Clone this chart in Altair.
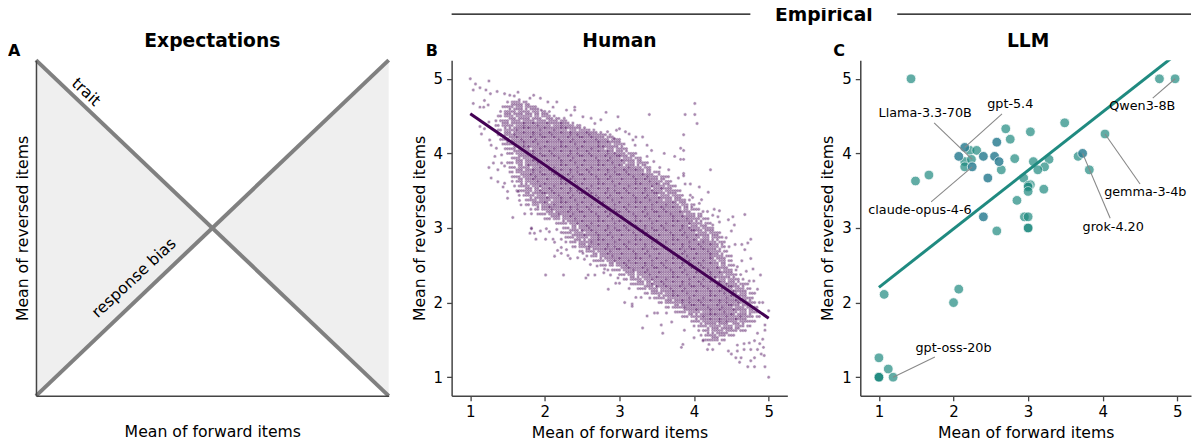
import math
import altair as alt
import pandas as pd

alt.data_transformers.disable_max_rows()

FONT = "DejaVu Sans"
INK = "#000000"
AXIS = "#444444"
PURPLE = "#440154"
TEAL = "#1f8a80"
BLUE = "#2f7f93"
DOM = [0.75, 5.25]
DOM_C = [0.75, 5.183]
TICKS = [1, 2, 3, 4, 5]
XT = "Mean of forward items"
YT = "Mean of reversed items"

# Panel A
diag_x = [0, 1]
diag_up = [0, 1]
diag_down = [1, 0]
shade_x = [0, 0.5, 1]
shade_top = [1, 0.5, 1]
shade_bottom = [0, 0.5, 0]

# Panel B: extent of the dense cloud, read row by row
core_y = [4.6875, 4.625, 4.5625, 4.5, 4.4375, 4.375, 4.3125, 4.25, 4.1875, 4.125, 4.0625, 4.0, 3.9375,
          3.875, 3.8125, 3.75, 3.6875, 3.625, 3.5625, 3.5, 3.4375, 3.375, 3.3125, 3.25, 3.1875, 3.125,
          3.0625, 3.0, 2.9375, 2.875, 2.8125, 2.75, 2.6875, 2.625, 2.5625, 2.5, 2.4375, 2.375, 2.3125,
          2.25, 2.1875, 2.125, 2.0625, 2.0, 1.9375, 1.875, 1.8125, 1.75, 1.6875, 1.625, 1.5625, 1.5]
core_start = [1.50, 1.42, 1.38, 1.33, 1.34, 1.32, 1.36, 1.33, 1.37, 1.40, 1.46, 1.48, 1.52,
              1.50, 1.53, 1.52, 1.56, 1.54, 1.58, 1.62, 1.65, 1.70, 1.74, 1.80, 1.88, 1.97,
              2.10, 2.22, 2.24, 2.26, 2.28, 2.34, 2.44, 2.55, 2.64, 2.72, 2.84, 2.97, 3.04,
              3.13, 3.22, 3.32, 3.40, 3.52, 3.62, 3.72, 3.82, 3.92, 3.98, 4.06, 4.08, 4.12]
core_end = [1.78, 1.90, 2.02, 2.15, 2.30, 2.48, 2.68, 2.88, 3.02, 3.10, 3.14, 3.22, 3.30,
            3.40, 3.46, 3.55, 3.66, 3.72, 3.76, 3.82, 3.86, 3.95, 4.00, 4.08, 4.12, 4.20,
            4.22, 4.26, 4.36, 4.42, 4.44, 4.48, 4.46, 4.50, 4.52, 4.55, 4.58, 4.63, 4.68,
            4.72, 4.76, 4.82, 4.84, 4.88, 4.86, 4.90, 4.88, 4.84, 4.78, 4.70, 4.55, 4.42]
sparse_above = 4.4
sparse_below = 1.75
# Texture of the cloud as seen in the crops: # repeated response, o empty site
texture = [
    "..#....#...#..o.",
    ".o....#.....#...",
    "#...#.....#....#",
    "...o...#.....#..",
    ".#.....#...#....",
    "....#.....o...#.",
    "#.o....#.#......",
    "...#.......#..#.",
]

# Panel B: scattered responses outside the dense cloud
stray = [
    (1.0,5.0),(1.07,4.93),(1.25,4.97),(1.13,4.88),(1.04,4.85),(1.21,4.85),(1.27,4.80),(1.36,4.83),(1.04,4.67),
    (1.19,4.71),(1.13,4.62),(1.18,4.62),(1.24,4.65),(1.13,4.36),(1.19,4.33),(1.25,4.42),(1.15,4.26),(1.26,4.18),
    (1.28,4.11),(1.35,4.07),(1.33,3.96),(1.42,3.98),(1.31,3.87),(1.25,3.81),(1.42,3.87),(1.37,3.78),(1.46,3.83),
    (1.28,3.67),(1.37,3.62),(1.46,3.6),(1.44,3.55),(1.5,3.49),(1.64,3.49),(1.5,3.40),(1.66,3.37),(1.68,3.31),
    (1.57,3.14),(1.73,3.19),(1.82,3.19),(1.82,3.0),(1.46,4.80),(1.53,4.78),(1.64,4.82),(1.59,4.77),(1.85,4.78),
    (1.8,4.74),(1.94,4.74),(2.04,4.69),(2.16,4.69),(2.11,4.62),(1.95,4.58),(2.06,4.56),(2.29,4.58),(2.4,4.62),
    (2.4,4.58),(2.82,4.55),(2.98,4.49),(2.51,4.49),(2.62,4.47),(2.75,4.45),(2.26,4.47),(2.35,4.51),(2.67,4.40),
    (2.84,4.29),(2.96,4.31),(3.0,4.33),(2.93,4.2),(4.01,4.67),(3.40,4.52),(3.88,4.52),(4.01,4.52),(4.04,4.40),
    (3.86,4.25),(3.31,4.22),(3.22,4.22),(3.13,4.26),(3.08,4.29),(3.18,4.18),(3.37,4.11),(3.21,4.11),(3.43,4.04),
    (3.6,4.0),(3.74,3.96),(3.82,4.07),(3.86,4.04),(3.82,3.92),(3.86,3.92),(3.37,3.96),(3.46,3.89),(3.54,3.81),
    (3.66,3.78),(4.22,3.78),(3.86,3.73),(3.86,3.70),(3.79,3.67),(3.88,3.59),(3.95,3.59),(4.07,3.55),(4.19,3.48),
    (3.95,3.44),(3.98,3.41),(4.1,3.38),(4.07,3.33),(4.27,3.25),(4.34,3.23),(4.68,3.18),(4.52,3.15),(4.46,3.11),
    (4.54,3.04),(4.32,3.15),(4.25,3.17),(4.12,3.22),(4.18,3.22),(4.34,3.08),(4.25,3.04),(4.76,2.85),(4.72,2.80),
    (4.64,2.78),(4.55,2.78),(4.68,2.71),(4.5,2.96),(4.43,2.87),(4.76,2.59),(4.64,2.56),(4.58,2.48),(4.7,2.42),
    (4.79,2.45),(4.89,2.37),(4.74,2.29),(4.8,2.29),(4.85,2.18),(4.92,2.0),(5.0,1.89),(4.95,1.70),(4.95,1.63),
    (4.85,1.59),(4.92,1.51),(4.81,1.49),(4.74,1.46),(4.67,1.45),(4.58,1.43),(4.88,1.45),(4.93,1.40),(4.85,1.37),
    (4.76,1.37),(4.67,1.37),(4.58,1.35),(4.46,1.35),(4.5,1.31),(4.9,1.31),(4.94,1.29),(4.81,1.26),(4.76,1.22),
    (4.63,1.26),(4.56,1.26),(4.61,1.2),(4.72,1.14),(4.81,1.14),(4.95,1.14),(5.0,1.0),(4.25,1.37),(4.18,1.37),
    (3.85,1.44),(3.83,1.4),(4.2,1.44),(4.34,1.45),(4.12,1.49),(4.0,1.53),(3.87,1.63),(3.58,1.59),(3.31,1.66),
    (3.56,1.7),(3.7,1.74),(3.37,1.82),(3.47,1.86),(3.51,1.86),(3.63,1.86),(3.17,1.98),(3.07,2.0),(3.17,1.95),
    (3.22,2.07),(3.29,2.07),(3.13,2.19),(3.0,2.26),(2.01,2.37),(2.25,2.37),(2.58,2.37),(2.55,2.33),(2.67,2.37),
    (2.85,2.18),(2.79,2.40),(2.88,2.37),(2.95,2.26),(2.98,2.33),(1.88,2.85),(2.01,2.85),(2.11,2.85),(2.22,2.85),
    (1.82,2.99),(1.8,2.93),(1.86,2.93),(1.94,2.96),(2.02,2.99),(2.06,2.95),(2.16,2.98),(2.22,2.94),(2.13,2.81),
    (2.22,2.74),(2.17,2.70),(2.22,2.66),(2.13,2.62),(2.29,2.71),(2.31,2.63),(2.34,2.59),(2.44,2.60),(2.51,2.66),
    (2.53,2.58),(2.61,2.51),(2.70,2.49),(2.8,2.45),
]
human_fit_x = [1, 5]
human_fit_y = [4.53, 1.79]

# Panel C
llm_light = [
    (1.43,5),(4.76,5),(4.97,5),(3.49,4.41),(2.70,4.33),(3.03,4.29),(2.76,4.19),(4.03,4.26),(2.22,4.04),(2.31,4.04),
    (2.15,3.89),(2.24,3.92),(2.15,3.82),(2.64,3.78),(2.82,3.93),(3.07,3.89),(3.28,3.92),(3.22,3.82),(3.13,3.78),
    (3.67,3.96),(3.82,3.78),(2.94,3.67),(3.03,3.58),(3.0,3.57),(3.0,3.55),(3.0,3.49),(3.21,3.52),(2.85,3.37),
    (2.95,3.15),(3.0,3.15),(3.0,3.0),(3.0,3.0),(2.58,2.96),(1.49,3.63),(1.67,3.71),(1.07,2.11),(2.07,2.18),(2.0,2.0),
    (1.0,1.26),(1.125,1.11),(1.19,1.0),(1.0,1.0),(1.0,1.0),(1.0,1.0),
]
llm_dark = [(2.15,4.08),(2.07,3.96),(2.40,3.96),(2.55,3.96),(2.58,4.15),(2.61,3.89),(2.25,3.82),(2.46,3.67),(2.40,3.15),(3.73,4.0)]
llm_fit_x = [1, 5]
llm_fit_y = [2.205, 5.34]

label_names = ["gpt-5.4", "Llama-3.3-70B", "claude-opus-4-6", "Qwen3-8B", "gemma-3-4b", "grok-4.20", "gpt-oss-20b"]
label_x = [2.76, 1.62, 1.55, 4.53, 4.57, 4.14, 2.0]
label_y = [4.66, 4.54, 3.24, 4.63, 3.48, 3.02, 1.39]
lead_x1 = [2.65, 1.74, 1.70, 4.67, 4.50, 4.10, 1.75]
lead_y1 = [4.53, 4.41, 3.35, 4.74, 3.59, 3.13, 1.27]
lead_x2 = [2.15, 2.25, 2.25, 4.97, 4.03, 3.73, 1.19]
lead_y2 = [4.08, 3.92, 3.82, 5.0, 4.26, 4.0, 1.0]

cloud = []
j = 0
for yy, a, b in zip(core_y, core_start, core_end):
    for sub in (0, 1 / 32):
        j += 1
        for k in range(math.ceil(a * 32), math.floor(b * 32) + 1):
            xx = k / 32
            edge = min(xx - a, b - xx)
            if yy > sparse_above or yy < sparse_below:
                edge = min(edge, 0.2)
            mark = texture[j % 8][k % 16]
            if edge < 0.1 and (mark != "." or j % 2 == 0):
                continue
            if edge < 0.25 and mark != ".":
                continue
            if edge < 0.4 and mark == "o":
                continue
            cloud.append((xx, yy + sub))
            if mark == "#":
                cloud.append((xx, yy + sub))
human = pd.DataFrame(cloud + stray, columns=["x", "y"])


def one():
    return alt.Data(values=[{"a": 0}])


def letter(t, x):
    return alt.Chart(one()).mark_text(text=t, font=FONT, fontSize=16, fontWeight="bold", align="left",
                                      baseline="middle", color=INK).encode(x=alt.value(x), y=alt.value(-9))


def head(t, x):
    return alt.Chart(one()).mark_text(text=t, font=FONT, fontSize=18.7, fontWeight="bold", align="center",
                                      baseline="middle", color=INK).encode(x=alt.value(x), y=alt.value(-19))


def axis(title, ticks=True, pad=6):
    kw = dict(title=title, grid=False, domainColor=AXIS, domainWidth=1.5, labelFont=FONT, titleFont=FONT,
              labelFontSize=15, titleFontSize=15.7, titleFontWeight="normal", labelColor=INK, titleColor=INK,
              titlePadding=pad, zindex=1)
    if ticks:
        kw.update(values=TICKS, tickColor=AXIS, tickWidth=1.3, tickSize=5, labelPadding=4, labelFlush=False)
    else:
        kw.update(ticks=False, labels=False)
    return alt.Axis(**kw)


def sx(domain=DOM):
    return alt.Scale(domain=domain, nice=False, zero=False)


W, H = 336, 336
WC = 331

# ---- A
dA = pd.DataFrame({"x": shade_x, "t": shade_top, "b": shade_bottom})
enc_x = alt.X("x:Q", scale=sx([0, 1]), axis=axis(XT, ticks=False, pad=29))
enc_y = alt.Y("y:Q", scale=sx([0, 1]), axis=axis(YT, ticks=False, pad=5))
shade = alt.Chart(dA).mark_area(color="#efefef").encode(
    x=enc_x, y=alt.Y("t:Q", scale=sx([0, 1]), axis=axis(YT, ticks=False, pad=5)), y2="b:Q")
up = alt.Chart(pd.DataFrame({"x": diag_x, "y": diag_up})).mark_line(color="#808080", strokeWidth=4).encode(x=enc_x, y=enc_y)
down = alt.Chart(pd.DataFrame({"x": diag_x, "y": diag_down})).mark_line(color="#808080", strokeWidth=4).encode(x=enc_x, y=enc_y)
tA = alt.Chart(pd.DataFrame({"x": [0.142], "y": [0.905]})).mark_text(
    text="trait", angle=43, font=FONT, fontSize=15.7, color=INK).encode(x=enc_x, y=enc_y)
tB = alt.Chart(pd.DataFrame({"x": [0.278], "y": [0.351]})).mark_text(
    text="response bias", angle=317, font=FONT, fontSize=15.7, color=INK).encode(x=enc_x, y=enc_y)
A = alt.layer(shade, up, down, tA, tB, letter("A", -28), head("Expectations", 176.5)).properties(width=353, height=H)

# ---- B
bx = alt.X("x:Q", scale=sx(), axis=axis(XT))
by = alt.Y("y:Q", scale=sx(), axis=axis(YT))
pts = alt.Chart(human).mark_circle(size=12, color=PURPLE, opacity=0.45, stroke="white", strokeWidth=0.5).encode(x=bx, y=by)
fitB = alt.Chart(pd.DataFrame({"x": human_fit_x, "y": human_fit_y})).mark_line(color=PURPLE, strokeWidth=3).encode(x=bx, y=by)
ruleB = alt.Chart(one()).mark_rule(color=INK, strokeWidth=1.3).encode(x=alt.value(0), x2=alt.value(299), y=alt.value(-46))
B = alt.layer(pts, fitB, ruleB, letter("B", -26), head("Human", 168)).properties(width=W, height=H)

# ---- spacers
sp1 = alt.Chart(one()).mark_text(text=" ").encode(x=alt.value(0), y=alt.value(0)).properties(width=63, height=H)
sp2 = alt.Chart(one()).mark_text(text="Empirical", font=FONT, fontSize=18.7, fontWeight="bold", color=INK,
                                 baseline="middle", align="center").encode(
    x=alt.value(36.5), y=alt.value(-45)).properties(width=73, height=H)

# ---- C
cx = alt.X("x:Q", scale=sx(DOM_C), axis=axis(XT))
cy = alt.Y("y:Q", scale=sx(), axis=axis(YT))
dl = pd.DataFrame(llm_light, columns=["x", "y"])
dd = pd.DataFrame(llm_dark, columns=["x", "y"])
dlab = pd.DataFrame({"n": label_names, "x": label_x, "y": label_y, "x1": lead_x1, "y1": lead_y1, "x2": lead_x2, "y2": lead_y2})
ptL = alt.Chart(dl).mark_circle(size=95, color=TEAL, opacity=0.7, stroke="white", strokeWidth=0.8).encode(x=cx, y=cy)
ptD = alt.Chart(dd).mark_circle(size=95, color=BLUE, opacity=0.85, stroke="white", strokeWidth=0.8).encode(x=cx, y=cy)
fitC = alt.Chart(pd.DataFrame({"x": llm_fit_x, "y": llm_fit_y})).mark_line(color=TEAL, strokeWidth=3, clip=True).encode(x=cx, y=cy)
lead = alt.Chart(dlab).mark_rule(color="#888888", strokeWidth=1.1).encode(
    x=alt.X("x1:Q", scale=sx(DOM_C), axis=axis(XT)), y=alt.Y("y1:Q", scale=sx(), axis=axis(YT)), x2="x2:Q", y2="y2:Q")
txt = alt.Chart(dlab).mark_text(font=FONT, fontSize=12.8, color=INK).encode(x=cx, y=cy, text="n:N")
ruleC = alt.Chart(one()).mark_rule(color=INK, strokeWidth=1.3).encode(x=alt.value(37), x2=alt.value(331), y=alt.value(-46))
C = alt.layer(ptL, ptD, fitC, lead, txt, ruleC, letter("C", -27), head("LLM", 168)).properties(width=WC, height=H)

chart = alt.hconcat(A, sp1, B, sp2, C, spacing=0, bounds="flush").properties(
    padding={"left": 0, "top": -2, "right": 0, "bottom": 0}).configure_view(stroke=None)
chart.save("out.html", embed_options={"renderer": "svg", "actions": False})
